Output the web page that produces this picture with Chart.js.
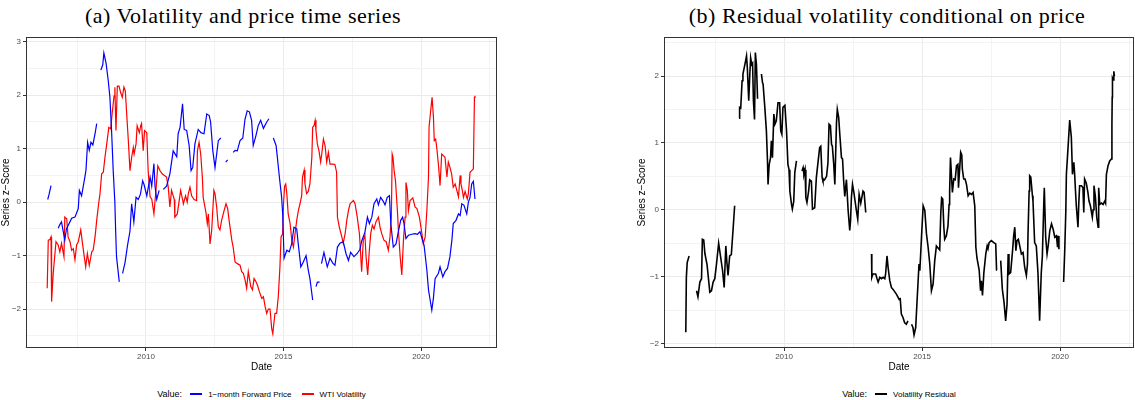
<!DOCTYPE html>
<html>
<head>
<meta charset="utf-8">
<script src="https://cdn.jsdelivr.net/npm/chart.js@4.4.1/dist/chart.umd.min.js"></script>
<style>
    body { margin: 0; width: 1135px; height: 400px; background: #fff; position: relative; overflow: hidden; font-family: "Liberation Sans", Arial, sans-serif; }
    .titulo { position: absolute; top: 3px; height: 26px; line-height: 26px; font-family: "Liberation Serif", serif; font-size: 22px; letter-spacing: 0.5px; text-align: center; color: #000; white-space: nowrap; }
    .caixa { position: absolute; top: 30px; height: 345px; }
    .legenda { position: absolute; top: 387px; height: 14px; display: flex; align-items: center; justify-content: center; font-size: 8px; color: #000; }
    .legenda .rotulo { font-size: 9px; margin-right: 8px; }
    .legenda .chave { display: inline-block; width: 12px; height: 2px; margin-right: 6px; }
    .legenda .item { margin-right: 10px; }
</style>
</head>
<body>

<div class="titulo" style="left:43px; width:400px;">(a) Volatility and price time series</div>
<div class="titulo" style="left:637px; width:500px;">(b) Residual volatility conditional on price</div>

<div class="caixa" style="left:0; width:498px;"><canvas id="graficoA"></canvas></div>
<div class="caixa" style="left:636px; width:499px;"><canvas id="graficoB"></canvas></div>

<div class="legenda" style="left:26px; width:471px;">
    <span class="rotulo">Value:</span>
    <span class="chave" style="background:#0000ff;"></span><span class="item">1−month Forward Price</span>
    <span class="chave" style="background:#ff0000;"></span><span>WTI Volatility</span>
</div>
<div class="legenda" style="left:664px; width:470px;">
    <span class="rotulo">Value:</span>
    <span class="chave" style="background:#000;"></span><span>Volatility Residual</span>
</div>

<script>
// ==================== DADOS ====================
// anos em fração decimal, null = falha na série

const priceYears = [2006.43, 2006.48, 2006.55, 2006.68, 2006.81, 2006.87, 2006.93, 2007.05, 2007.11, 2007.30, 2007.42, 2007.54, 2007.58, 2007.66, 2007.78, 2007.82, 2007.88, 2007.94, 2008.00, 2008.07, 2008.15, 2008.21, 2008.29, 2008.36, 2008.43, 2008.47, 2008.55, 2008.63, 2008.69, 2008.75, 2008.81, 2008.87, 2008.90, 2008.93, 2009.03, 2009.09, 2009.15, 2009.24, 2009.33, 2009.42, 2009.48, 2009.56, 2009.64, 2009.72, 2009.80, 2009.88, 2009.93, 2010.03, 2010.15, 2010.21, 2010.29, 2010.33, 2010.39, 2010.48, 2010.55, 2010.63, 2010.75, 2010.87, 2010.99, 2011.12, 2011.17, 2011.24, 2011.33, 2011.39, 2011.48, 2011.57, 2011.64, 2011.70, 2011.78, 2011.90, 2012.00, 2012.11, 2012.21, 2012.30, 2012.35, 2012.43, 2012.51, 2012.63, 2012.72, 2012.81, 2012.90, 2012.97, 2013.07, 2013.17, 2013.24, 2013.32, 2013.42, 2013.52, 2013.60, 2013.68, 2013.76, 2013.84, 2013.90, 2014.00, 2014.08, 2014.17, 2014.27, 2014.39, 2014.47, 2014.55, 2014.63, 2014.73, 2014.77, 2014.85, 2014.93, 2014.97, 2015.02, 2015.12, 2015.21, 2015.30, 2015.38, 2015.48, 2015.54, 2015.63, 2015.72, 2015.82, 2015.90, 2015.96, 2016.06, 2016.12, 2016.18, 2016.23, 2016.31, 2016.34, 2016.38, 2016.47, 2016.59, 2016.69, 2016.79, 2016.87, 2016.96, 2017.05, 2017.17, 2017.27, 2017.36, 2017.44, 2017.56, 2017.68, 2017.78, 2017.84, 2017.96, 2018.05, 2018.12, 2018.21, 2018.29, 2018.39, 2018.45, 2018.53, 2018.61, 2018.69, 2018.77, 2018.85, 2018.90, 2018.99, 2019.09, 2019.17, 2019.26, 2019.33, 2019.38, 2019.45, 2019.54, 2019.66, 2019.78, 2019.87, 2019.96, 2020.11, 2020.21, 2020.27, 2020.33, 2020.39, 2020.45, 2020.51, 2020.63, 2020.69, 2020.79, 2020.87, 2020.96, 2021.05, 2021.12, 2021.17, 2021.27, 2021.36, 2021.42, 2021.48, 2021.56, 2021.66, 2021.72, 2021.78, 2021.84, 2021.90, 2021.96];
const priceValues = [0.05, 0.15, 0.31, null, -0.49, -0.42, -0.37, -0.71, -0.5, -0.3, -0.28, -0.12, 0.22, 0.12, 0.47, 0.6, 1.12, 0.97, 1.12, 1.07, 1.28, 1.47, null, 2.47, 2.57, 2.79, 2.6, 2.27, 1.96, 1.34, 0.59, 0.0, -0.56, -1.02, -1.49, null, -1.33, -1.13, -0.81, -0.54, -0.03, -0.37, 0.09, 0.05, 0.15, 0.4, 0.33, 0.12, 0.47, 0.3, 0.72, 0.3, 0.05, 0.22, null, 0.24, 0.3, 0.53, 0.96, 0.85, 1.28, 1.4, 1.84, 1.36, 1.34, 1.06, 0.59, 0.65, 1.09, 1.36, 1.3, 1.28, 1.65, 1.62, 1.5, 0.96, 0.65, 1.15, 1.2, null, 0.75, 0.79, null, 0.93, 0.97, 0.96, 1.15, 1.2, 1.55, 1.71, 1.69, 1.53, 1.06, 1.25, 1.43, 1.53, 1.38, 1.5, 1.56, null, 1.2, 1.06, 0.87, 0.47, 0.1, -0.22, -1.05, -0.9, -0.93, -0.77, -0.47, -0.5, -0.8, -1.21, -1.12, -1.0, -1.27, -1.43, -1.83, null, -1.58, -1.5, -1.49, null, -1.15, -0.94, -1.21, -1.05, -1.14, -1.18, -0.84, -0.77, -0.74, -0.96, -1.09, -0.94, -1.02, -0.96, -0.88, -0.73, -0.56, -0.28, -0.4, -0.28, -0.03, 0.06, -0.05, 0.09, 0.03, -0.05, 0.09, 0.12, -0.4, -0.84, -0.78, -0.56, -0.34, -0.28, -0.4, -0.68, -0.62, -0.6, -0.59, -0.6, -0.55, -0.81, -1.27, -1.64, -1.83, -2.02, -1.79, -1.43, -1.33, -1.21, -1.4, -1.3, -1.24, -1.02, -0.71, -0.4, -0.34, -0.22, -0.25, -0.03, -0.06, -0.22, 0.0, 0.09, 0.34, 0.39, 0.06];

const volYears = [2006.41, 2006.45, 2006.51, 2006.55, 2006.57, 2006.63, 2006.73, 2006.81, 2006.87, 2006.93, 2007.02, 2007.05, 2007.12, 2007.17, 2007.24, 2007.30, 2007.36, 2007.42, 2007.48, 2007.54, 2007.63, 2007.70, 2007.75, 2007.81, 2007.87, 2007.94, 2008.03, 2008.08, 2008.15, 2008.21, 2008.28, 2008.33, 2008.39, 2008.45, 2008.51, 2008.59, 2008.65, 2008.72, 2008.77, 2008.84, 2008.87, 2008.91, 2008.96, 2009.02, 2009.08, 2009.14, 2009.20, 2009.25, 2009.30, 2009.36, 2009.42, 2009.48, 2009.54, 2009.57, 2009.64, 2009.68, 2009.76, 2009.81, 2009.84, 2009.90, 2009.95, 2010.03, 2010.08, 2010.15, 2010.21, 2010.29, 2010.36, 2010.43, 2010.51, 2010.59, 2010.67, 2010.75, 2010.81, 2010.87, 2010.93, 2011.03, 2011.05, 2011.14, 2011.26, 2011.33, 2011.36, 2011.44, 2011.50, 2011.54, 2011.60, 2011.66, 2011.75, 2011.84, 2011.87, 2011.93, 2011.99, 2012.05, 2012.08, 2012.18, 2012.23, 2012.27, 2012.33, 2012.39, 2012.47, 2012.51, 2012.57, 2012.63, 2012.69, 2012.75, 2012.84, 2012.91, 2012.97, 2013.03, 2013.12, 2013.17, 2013.24, 2013.32, 2013.42, 2013.48, 2013.54, 2013.60, 2013.66, 2013.72, 2013.81, 2013.87, 2013.93, 2014.00, 2014.05, 2014.12, 2014.21, 2014.27, 2014.33, 2014.39, 2014.45, 2014.51, 2014.57, 2014.61, 2014.65, 2014.69, 2014.75, 2014.81, 2014.87, 2014.91, 2014.97, 2015.00, 2015.04, 2015.08, 2015.12, 2015.17, 2015.24, 2015.30, 2015.36, 2015.42, 2015.48, 2015.54, 2015.60, 2015.66, 2015.69, 2015.75, 2015.78, 2015.84, 2015.90, 2015.96, 2016.03, 2016.06, 2016.11, 2016.15, 2016.18, 2016.23, 2016.29, 2016.35, 2016.39, 2016.45, 2016.51, 2016.57, 2016.63, 2016.69, 2016.81, 2016.87, 2016.93, 2016.96, 2017.03, 2017.12, 2017.17, 2017.24, 2017.30, 2017.36, 2017.42, 2017.48, 2017.54, 2017.60, 2017.68, 2017.76, 2017.84, 2017.90, 2017.96, 2018.00, 2018.06, 2018.12, 2018.17, 2018.23, 2018.29, 2018.36, 2018.45, 2018.51, 2018.57, 2018.65, 2018.73, 2018.81, 2018.87, 2018.92, 2018.95, 2018.98, 2019.02, 2019.07, 2019.14, 2019.17, 2019.24, 2019.30, 2019.36, 2019.42, 2019.45, 2019.50, 2019.54, 2019.60, 2019.70, 2019.78, 2019.85, 2019.94, 2020.03, 2020.08, 2020.15, 2020.21, 2020.27, 2020.29, 2020.35, 2020.40, 2020.45, 2020.48, 2020.53, 2020.57, 2020.63, 2020.69, 2020.75, 2020.81, 2020.87, 2020.94, 2020.99, 2021.05, 2021.11, 2021.17, 2021.24, 2021.30, 2021.36, 2021.42, 2021.45, 2021.50, 2021.54, 2021.60, 2021.68, 2021.72, 2021.78, 2021.84, 2021.90, 2021.94, 2021.96];
const volValues = [-1.61, -0.71, -0.7, -0.65, -1.86, -1.33, -0.74, -0.8, -0.93, -0.77, -1.02, -0.28, -0.31, -0.65, -0.74, -0.9, -0.87, -1.08, -0.8, -0.74, -0.52, -0.8, -0.99, -1.21, -0.96, -1.18, -0.93, -0.9, -0.65, -0.34, -0.03, 0.16, 0.53, 0.56, 0.84, 1.15, 1.4, 1.37, 1.65, 1.99, 2.15, 1.34, 2.17, 2.17, 2.05, 1.96, 2.15, 2.08, 1.65, 1.15, 0.59, 0.84, 1.02, 0.9, 1.09, 1.43, 1.3, 1.43, 1.47, 0.96, 1.34, 1.3, 0.59, 0.1, 0.06, -0.22, 0.2, 0.68, 0.59, 0.53, 0.5, 0.47, 0.28, -0.09, 0.22, 0.05, -0.28, -0.22, 0.22, 0.05, -0.03, 0.12, 0.0, 0.16, 0.28, 0.12, 0.05, 0.03, 0.96, 1.12, 0.9, 0.47, 0.09, -0.19, -0.4, -0.22, -0.78, -0.52, 0.22, 0.16, -0.09, -0.46, -0.52, -0.34, -0.16, -0.03, -0.12, -0.37, -0.71, -0.84, -1.12, -1.15, -1.18, -1.3, -1.33, -1.45, -1.61, -1.3, -1.58, -1.64, -1.43, -1.49, -1.55, -1.67, -1.8, -1.77, -1.95, -2.08, -2.0, -2.0, -2.36, -2.46, -2.27, -2.08, -2.08, -1.77, -1.21, -0.65, -0.59, -0.03, 0.3, 0.34, 0.16, -0.22, -0.4, -0.71, -0.84, -0.59, -0.34, -0.16, -0.03, 0.12, 0.47, 0.6, 0.34, 0.16, 0.2, 0.34, 0.84, 1.4, 1.43, 1.53, 1.34, 1.09, 0.96, 0.75, 0.9, 1.18, 1.06, 0.75, 0.93, 0.71, 0.71, 0.7, 0.56, -0.28, -0.47, -0.65, -0.77, -0.59, -0.34, -0.16, -0.03, 0.0, 0.03, -0.03, -0.28, -0.59, -1.3, -0.71, -0.62, -1.02, -1.36, -0.9, -0.59, -0.43, -0.5, -0.37, -0.28, -0.47, -0.59, -0.71, -0.74, -0.9, -0.65, -0.28, 0.9, 0.84, 0.59, 0.4, -0.16, -0.47, -1.02, -1.36, -0.71, -0.28, 0.37, 0.22, -0.16, 0.03, 0.08, -0.09, -0.12, -0.28, -0.59, -0.78, -0.65, -0.16, 0.47, 1.4, 1.71, 1.96, 1.59, 1.15, 1.18, 1.02, 0.71, 0.31, 0.9, 0.87, 0.84, 0.47, 0.75, 0.65, 0.53, 0.28, 0.34, 0.22, 0.1, 0.5, 0.34, 0.22, 0.09, 0.2, 0.06, 0.16, 0.56, 0.59, 0.62, 1.96, 1.99];

const residYears = [2006.44, 2006.46, 2006.49, 2006.56, 2006.70, 2006.83, 2006.88, 2006.95, 2007.01, 2007.04, 2007.09, 2007.13, 2007.21, 2007.31, 2007.37, 2007.43, 2007.49, 2007.55, 2007.63, 2007.70, 2007.77, 2007.83, 2007.89, 2007.93, 2007.97, 2008.03, 2008.09, 2008.15, 2008.21, 2008.29, 2008.37, 2008.39, 2008.43, 2008.48, 2008.51, 2008.58, 2008.64, 2008.67, 2008.72, 2008.76, 2008.79, 2008.83, 2008.86, 2008.89, 2008.93, 2008.96, 2009.00, 2009.04, 2009.11, 2009.18, 2009.22, 2009.24, 2009.30, 2009.36, 2009.40, 2009.42, 2009.46, 2009.51, 2009.54, 2009.58, 2009.63, 2009.67, 2009.72, 2009.78, 2009.84, 2009.88, 2009.92, 2009.96, 2010.03, 2010.09, 2010.14, 2010.18, 2010.21, 2010.27, 2010.30, 2010.35, 2010.39, 2010.45, 2010.55, 2010.65, 2010.69, 2010.72, 2010.76, 2010.79, 2010.83, 2010.89, 2010.93, 2010.99, 2011.03, 2011.11, 2011.17, 2011.23, 2011.29, 2011.33, 2011.38, 2011.41, 2011.47, 2011.54, 2011.59, 2011.63, 2011.68, 2011.72, 2011.75, 2011.80, 2011.84, 2011.90, 2011.93, 2011.98, 2012.02, 2012.08, 2012.12, 2012.16, 2012.20, 2012.26, 2012.29, 2012.32, 2012.38, 2012.41, 2012.44, 2012.48, 2012.53, 2012.62, 2012.67, 2012.72, 2012.78, 2012.86, 2012.90, 2012.96, 2013.07, 2013.17, 2013.18, 2013.22, 2013.32, 2013.37, 2013.41, 2013.47, 2013.53, 2013.59, 2013.65, 2013.68, 2013.73, 2013.77, 2013.83, 2013.89, 2013.95, 2014.07, 2014.17, 2014.21, 2014.25, 2014.31, 2014.37, 2014.43, 2014.49, 2014.55, 2014.62, 2014.67, 2014.71, 2014.77, 2014.82, 2014.89, 2014.92, 2014.98, 2015.04, 2015.10, 2015.16, 2015.22, 2015.28, 2015.34, 2015.40, 2015.46, 2015.52, 2015.58, 2015.64, 2015.68, 2015.71, 2015.75, 2015.79, 2015.82, 2015.88, 2015.94, 2015.98, 2016.00, 2016.03, 2016.10, 2016.15, 2016.20, 2016.25, 2016.30, 2016.32, 2016.37, 2016.40, 2016.44, 2016.46, 2016.51, 2016.56, 2016.61, 2016.67, 2016.73, 2016.79, 2016.85, 2016.91, 2016.95, 2016.99, 2017.07, 2017.12, 2017.15, 2017.19, 2017.24, 2017.31, 2017.36, 2017.39, 2017.43, 2017.51, 2017.60, 2017.67, 2017.70, 2017.72, 2017.78, 2017.85, 2017.91, 2017.97, 2018.03, 2018.08, 2018.12, 2018.15, 2018.21, 2018.28, 2018.32, 2018.36, 2018.40, 2018.44, 2018.49, 2018.54, 2018.60, 2018.66, 2018.72, 2018.78, 2018.82, 2018.84, 2018.88, 2018.90, 2018.94, 2019.00, 2019.02, 2019.08, 2019.14, 2019.20, 2019.26, 2019.32, 2019.36, 2019.41, 2019.43, 2019.48, 2019.53, 2019.57, 2019.63, 2019.69, 2019.75, 2019.81, 2019.87, 2019.91, 2019.93, 2019.96, 2020.05, 2020.13, 2020.17, 2020.21, 2020.23, 2020.29, 2020.35, 2020.41, 2020.45, 2020.50, 2020.53, 2020.56, 2020.59, 2020.65, 2020.68, 2020.71, 2020.78, 2020.83, 2020.86, 2020.89, 2020.95, 2021.01, 2021.05, 2021.10, 2021.17, 2021.20, 2021.23, 2021.28, 2021.33, 2021.38, 2021.40, 2021.44, 2021.50, 2021.56, 2021.62, 2021.65, 2021.68, 2021.74, 2021.80, 2021.86, 2021.88, 2021.89, 2021.90, 2021.93, 2021.95, 2021.97];
const residValues = [-1.83, -1.01, -0.79, -0.69, null, -1.21, -1.3, -1.08, -1.03, -0.44, -0.45, -0.65, -0.82, -1.23, -1.21, -1.08, -1.03, -0.82, -0.5, -0.7, -0.9, -1.16, -0.54, -0.79, -0.98, -0.69, -0.67, -0.31, 0.06, null, 1.37, 1.53, 1.52, 1.93, 2.03, 2.17, 2.3, 2.12, 1.63, 2.03, 2.27, 2.17, 2.19, 1.63, 1.35, 2.35, 2.17, 1.66, null, 2.03, 1.9, 1.88, 1.55, 1.18, 0.73, 0.38, 0.67, 0.78, 1.03, 0.78, 1.43, 1.28, 1.33, 1.6, 1.6, 1.18, 1.13, 1.53, 1.56, 1.18, 0.68, 0.6, 0.28, 0.08, 0.01, 0.12, 0.56, 0.73, null, 0.58, 0.63, 0.53, 0.6, 0.18, 0.11, 0.28, 0.45, 0.43, 0.01, 0.03, 0.48, 0.71, 0.93, 0.95, 0.48, 0.43, 0.45, 0.5, 0.7, 1.28, 1.26, 0.98, 0.95, 0.68, 0.38, 1.3, 1.5, 1.38, 1.13, 0.78, 0.76, 0.43, 0.2, 0.45, 0.23, 0.0, -0.31, -0.16, 0.18, 0.38, 0.26, -0.01, -0.14, 0.23, 0.1, 0.28, 0.26, -0.04, null, -0.66, -1.01, -0.96, -0.96, -1.03, -1.08, -1.01, -1.03, -1.01, -1.03, -0.96, -0.69, -0.86, -1.06, -1.16, -1.19, -1.26, -1.34, -1.33, -1.56, -1.61, -1.69, -1.71, -1.66, null, -1.71, -1.76, -1.87, -1.76, -1.36, -0.81, -0.91, -0.41, 0.06, -0.01, -0.36, -0.56, -0.81, -1.21, -1.11, -0.76, -0.54, -0.57, -0.6, -0.04, 0.18, 0.16, -0.26, -0.44, -0.39, -0.24, 0.08, 0.28, 0.78, 0.26, 0.46, 0.45, 0.66, 0.68, 0.33, 0.66, 0.86, 0.82, 0.61, 0.46, 0.46, 0.38, 0.21, 0.25, 0.23, 0.26, 0.06, -0.56, -0.72, -0.9, -1.21, -1.06, -1.28, -0.94, -0.66, -0.54, -0.58, -0.49, -0.46, -0.49, -0.51, -0.9, -0.9, null, -0.76, -1.19, -1.38, -1.66, -1.41, -0.66, -0.96, -0.94, -0.61, -0.39, -0.26, -0.61, -0.46, -0.44, -0.54, -0.66, -0.64, -0.86, -0.98, -0.81, -0.36, 0.28, 0.51, 0.49, 0.21, 0.13, -0.49, -0.54, -0.94, -1.66, -0.94, -0.69, 0.08, 0.33, -0.41, -0.66, -0.54, -0.31, -0.21, -0.29, -0.41, -0.39, -0.56, -0.39, -0.59, null, -1.08, -0.61, -0.01, 0.53, 0.93, 1.34, 1.08, 0.53, 0.71, 0.53, 0.28, 0.06, -0.26, 0.1, 0.36, 0.36, 0.33, -0.04, 0.46, 0.4, 0.26, 0.13, 0.06, -0.11, 0.0, 0.36, 0.2, -0.11, -0.26, 0.33, 0.08, 0.1, 0.08, 0.13, 0.1, 0.53, 0.66, 0.73, 0.76, 1.28, 1.68, 1.97, 1.94, 2.07, 2.0];

// grades e limites dos eixos
const xGrid = [2007.5, 2010, 2012.5, 2015, 2017.5, 2020, 2022.5];
const yGridA = [-2.5, -2, -1.5, -1, -0.5, 0, 0.5, 1, 1.5, 2, 2.5, 3];
const yGridB = [-2, -1.5, -1, -0.5, 0, 0.5, 1, 1.5, 2, 2.5];
const xRangeA = [2005.64, 2022.76];
const xRangeB = [2005.65, 2022.68];
const yRangeA = [-2.728, 3.093];
const yRangeB = [-2.066, 2.583];

// ==================== GRÁFICOS ====================

const fonte = "'Liberation Sans', Arial, sans-serif";

// moldura do painel (estilo theme_bw)
const molduraPainel = {
    id: 'molduraPainel',
    afterDatasetsDraw(chart) {
        const { ctx, chartArea: a } = chart;
        ctx.save();
        ctx.strokeStyle = '#333333';
        ctx.lineWidth = 1;
        ctx.strokeRect(Math.round(a.left) + 0.5, Math.round(a.top) + 0.5, Math.round(a.right - a.left) - 1, Math.round(a.bottom - a.top) - 1);
        ctx.restore();
    }
};

function montarPontos(anos, valores) {
    return anos.map((ano, i) => ({ x: ano, y: valores[i] }));
}

function ehInteiro(v, passo) {
    return Math.abs(v / passo - Math.round(v / passo)) < 1e-6;
}

function criarGrafico(id, datasets, xRange, yRange, yGrid, larguraEixoY, topo) {
    const ctx = document.getElementById(id)?.getContext('2d');
    if (!ctx) return;

    new Chart(ctx, {
        type: 'line',
        data: { datasets: datasets },
        options: {
            responsive: true,
            maintainAspectRatio: false,
            animation: false,
            layout: { padding: { top: topo, right: 1, left: 0, bottom: 0 } },
            plugins: { legend: { display: false }, tooltip: { enabled: false } },
            elements: { point: { radius: 0 }, line: { tension: 0 } },
            scales: {
                x: {
                    type: 'linear',
                    min: xRange[0],
                    max: xRange[1],
                    afterBuildTicks: s => { s.ticks = xGrid.map(v => ({ value: v })); },
                    afterFit: s => { s.height = 27; },
                    ticks: {
                        autoSkip: false,
                        maxRotation: 0,
                        padding: 1,
                        color: '#4d4d4d',
                        font: { family: fonte, size: 8 },
                        callback: v => ehInteiro(v, 5) ? String(v) : ''
                    },
                    grid: {
                        color: c => ehInteiro(c.tick.value, 5) ? '#ebebeb' : '#f3f3f3',
                        tickColor: c => ehInteiro(c.tick.value, 5) ? '#333333' : 'rgba(0,0,0,0)',
                        tickLength: 3,
                        lineWidth: 1
                    },
                    border: { display: false },
                    title: { display: true, text: 'Date', color: '#000', font: { family: fonte, size: 10 }, padding: { top: 0, bottom: 2 } }
                },
                y: {
                    type: 'linear',
                    min: yRange[0],
                    max: yRange[1],
                    afterBuildTicks: s => { s.ticks = yGrid.map(v => ({ value: v })); },
                    afterFit: s => { s.width = larguraEixoY; },
                    ticks: {
                        autoSkip: false,
                        padding: 2,
                        color: '#4d4d4d',
                        font: { family: fonte, size: 8 },
                        callback: v => ehInteiro(v, 1) ? (v < 0 ? '−' + Math.abs(v) : String(v)) : ''
                    },
                    grid: {
                        color: c => ehInteiro(c.tick.value, 1) ? '#ebebeb' : '#f3f3f3',
                        tickColor: c => ehInteiro(c.tick.value, 1) ? '#333333' : 'rgba(0,0,0,0)',
                        tickLength: 3,
                        lineWidth: 1
                    },
                    border: { display: false },
                    title: { display: true, text: 'Series z−Score', color: '#000', font: { family: fonte, size: 10 }, padding: { top: 0, bottom: 0 } }
                }
            }
        },
        plugins: [molduraPainel]
    });
}

criarGrafico('graficoA', [
    {
        label: '1−month Forward Price',
        data: montarPontos(priceYears, priceValues),
        borderColor: '#0000ff',
        borderWidth: 1.2,
        spanGaps: false
    },
    {
        label: 'WTI Volatility',
        data: montarPontos(volYears, volValues),
        borderColor: '#ff0000',
        borderWidth: 1.2,
        spanGaps: false
    }
], xRangeA, yRangeA, yGridA, 26, 6);

criarGrafico('graficoB', [
    {
        label: 'Volatility Residual',
        data: montarPontos(residYears, residValues),
        borderColor: '#000000',
        borderWidth: 1.6,
        spanGaps: false
    }
], xRangeB, yRangeB, yGridB, 28, 7);
</script>
</body>
</html>
